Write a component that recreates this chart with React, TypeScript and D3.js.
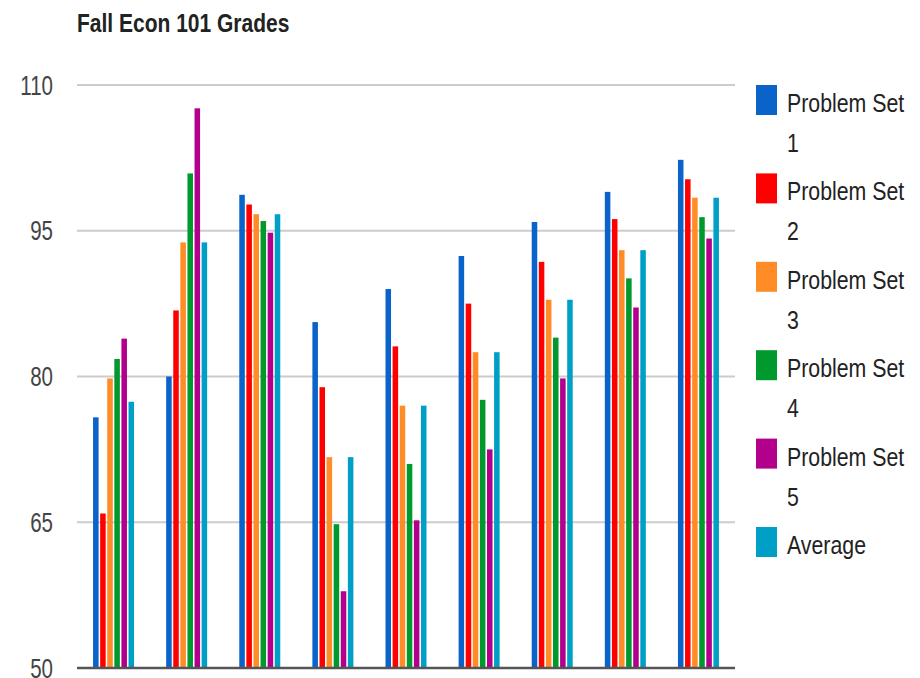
import React from "react";
import * as d3 from "d3";

const categories = ["1", "2", "3", "4", "5", "6", "7", "8", "9"];
const seriesNames = ["Problem Set 1", "Problem Set 2", "Problem Set 3", "Problem Set 4", "Problem Set 5", "Average"];
const legendLines = [["Problem Set", "1"], ["Problem Set", "2"], ["Problem Set", "3"], ["Problem Set", "4"], ["Problem Set", "5"], ["Average"]];
const colors = ["#0a63c9", "#ff0000", "#ff8c26", "#00992e", "#b3008c", "#00a0c6"];

const ps1 = [75.8, 80.0, 98.7, 85.6, 89.0, 92.4, 95.9, 99.0, 102.3];
const ps2 = [65.9, 86.8, 97.7, 78.9, 83.1, 87.5, 91.8, 96.2, 100.3];
const ps3 = [79.8, 93.8, 96.7, 71.7, 77.0, 82.5, 87.9, 93.0, 98.4];
const ps4 = [81.8, 100.9, 96.0, 64.8, 71.0, 77.6, 84.0, 90.1, 96.4];
const ps5 = [83.9, 107.6, 94.8, 57.9, 65.2, 72.5, 79.8, 87.1, 94.2];
const avg = [77.4, 93.8, 96.7, 71.7, 77.0, 82.5, 87.9, 93.0, 98.4];
const yTicks = [50, 65, 80, 95, 110];
const title = "Fall Econ 101 Grades";

const seriesValues = [ps1, ps2, ps3, ps4, ps5, avg];

const W = 920;
const H = 678;
const left = 77;
const right = 735;
const top = 85;
const bottom = 668;
const FONT = "'Liberation Sans', Arial, sans-serif";

function T({ x, y, sx, children, ...rest }: any) {
  return (
    <text transform={`translate(${x},${y}) scale(${sx},1)`} {...rest}>
      {children}
    </text>
  );
}

export default function App() {
  const x0 = d3.scaleBand<string>().domain(categories).range([left, right]).paddingInner(0).paddingOuter(0);
  const bw = x0.bandwidth();
  const inner = 41;
  const x1 = d3
    .scaleBand<string>()
    .domain(seriesNames)
    .range([(bw - inner) / 2, (bw + inner) / 2])
    .paddingInner(0.22)
    .paddingOuter(0);
  const y = d3.scaleLinear().domain([50, 110]).range([bottom, top]);

  return (
    <svg width={W} height={H} style={{ display: "block", position: "absolute", left: 0, top: 0 }} fontFamily={FONT}>
      <rect width={W} height={H} fill="#ffffff" />
      <T x={77} y={32} sx={0.84} fontSize={25} fontWeight="bold" fill="#222">
        {title}
      </T>
      {yTicks.map((t) => (
        <g key={t}>
          {t !== 50 && <line x1={left} x2={right} y1={y(t)} y2={y(t)} stroke="#cccccc" strokeWidth={2} />}
          <T x={53} y={y(t)} sx={0.76} fontSize={27} textAnchor="end" dominantBaseline="central" fill="#444">
            {t}
          </T>
        </g>
      ))}
      {categories.map((c, ci) => (
        <g key={c} transform={`translate(${x0(c)},0)`}>
          {seriesNames.map((s, si) => {
            const v = seriesValues[si][ci];
            return (
              <rect
                key={s}
                x={x1(s)}
                y={y(v)}
                width={x1.bandwidth()}
                height={y(50) - y(v)}
                fill={colors[si]}
              />
            );
          })}
        </g>
      ))}
      <line x1={left} x2={right} y1={bottom} y2={bottom} stroke="#555" strokeWidth={2.5} />
      {seriesNames.map((s, i) => {
        const ly = 85 + i * 88.4;
        return (
          <g key={s}>
            <rect x={756} y={ly} width={21} height={30} fill={colors[i]} />
            {legendLines[i].map((line, li) => (
              <T key={li} x={787} y={ly + 27 + li * 40} sx={0.82} fontSize={26} fill="#222">
                {line}
              </T>
            ))}
          </g>
        );
      })}
    </svg>
  );
}
